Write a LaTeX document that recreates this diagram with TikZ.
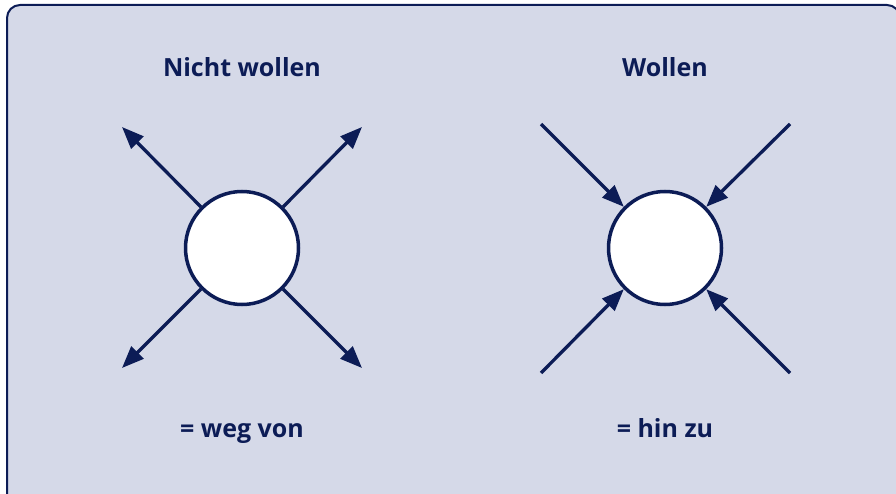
\documentclass[tikz,border=0pt]{standalone}
\usepackage{fontspec}
\setmainfont{Open Sans}
\usetikzlibrary{arrows.meta}
\definecolor{navy}{RGB}{12,28,86}
\definecolor{panel}{RGB}{213,217,232}
\tikzset{
  ball/.style={circle, draw=navy, line width=3.5pt, fill=white, minimum size=113pt, inner sep=0pt},
  arr/.style={draw=navy, line width=3.3pt, -{Triangle[length=22pt, width=17pt]}},
  lbl/.style={text=navy, font=\bfseries\fontsize{25}{29}\selectfont, anchor=base, inner sep=0pt}
}
\begin{document}
\begin{tikzpicture}[x=1pt, y=-1pt]
\useasboundingbox (0,0) rectangle (896,494);
\begin{scope}
\clip (0,0) rectangle (896,494);
\draw[navy, fill=panel, line width=2pt, rounded corners=13pt] (7,5) rectangle (900,530);
\end{scope}
\node[ball] (cL) at (242,248) {};
\node[ball] (cR) at (665,248) {};
\coordinate (L1) at (122,127);
\coordinate (L2) at (362,127);
\coordinate (L3) at (122,368);
\coordinate (L4) at (362,368);
\draw[arr] (cL.135) -- (L1);
\draw[arr] (cL.45) -- (L2);
\draw[arr] (cL.225) -- (L3);
\draw[arr] (cL.-45) -- (L4);
\coordinate (R1) at (541,124);
\coordinate (R2) at (790,124);
\coordinate (R3) at (541,373);
\coordinate (R4) at (790,373);
\draw[arr] (R1) -- (cR.135);
\draw[arr] (R2) -- (cR.45);
\draw[arr] (R3) -- (cR.225);
\draw[arr] (R4) -- (cR.-45);
\node[lbl] (t1) at (242,77) {Nicht wollen};
\node[lbl] (t2) at (665,77) {Wollen};
\node[lbl] (t3) at (242,437) {= weg von};
\node[lbl] (t4) at (665,437) {= hin zu};
\end{tikzpicture}
\end{document}
